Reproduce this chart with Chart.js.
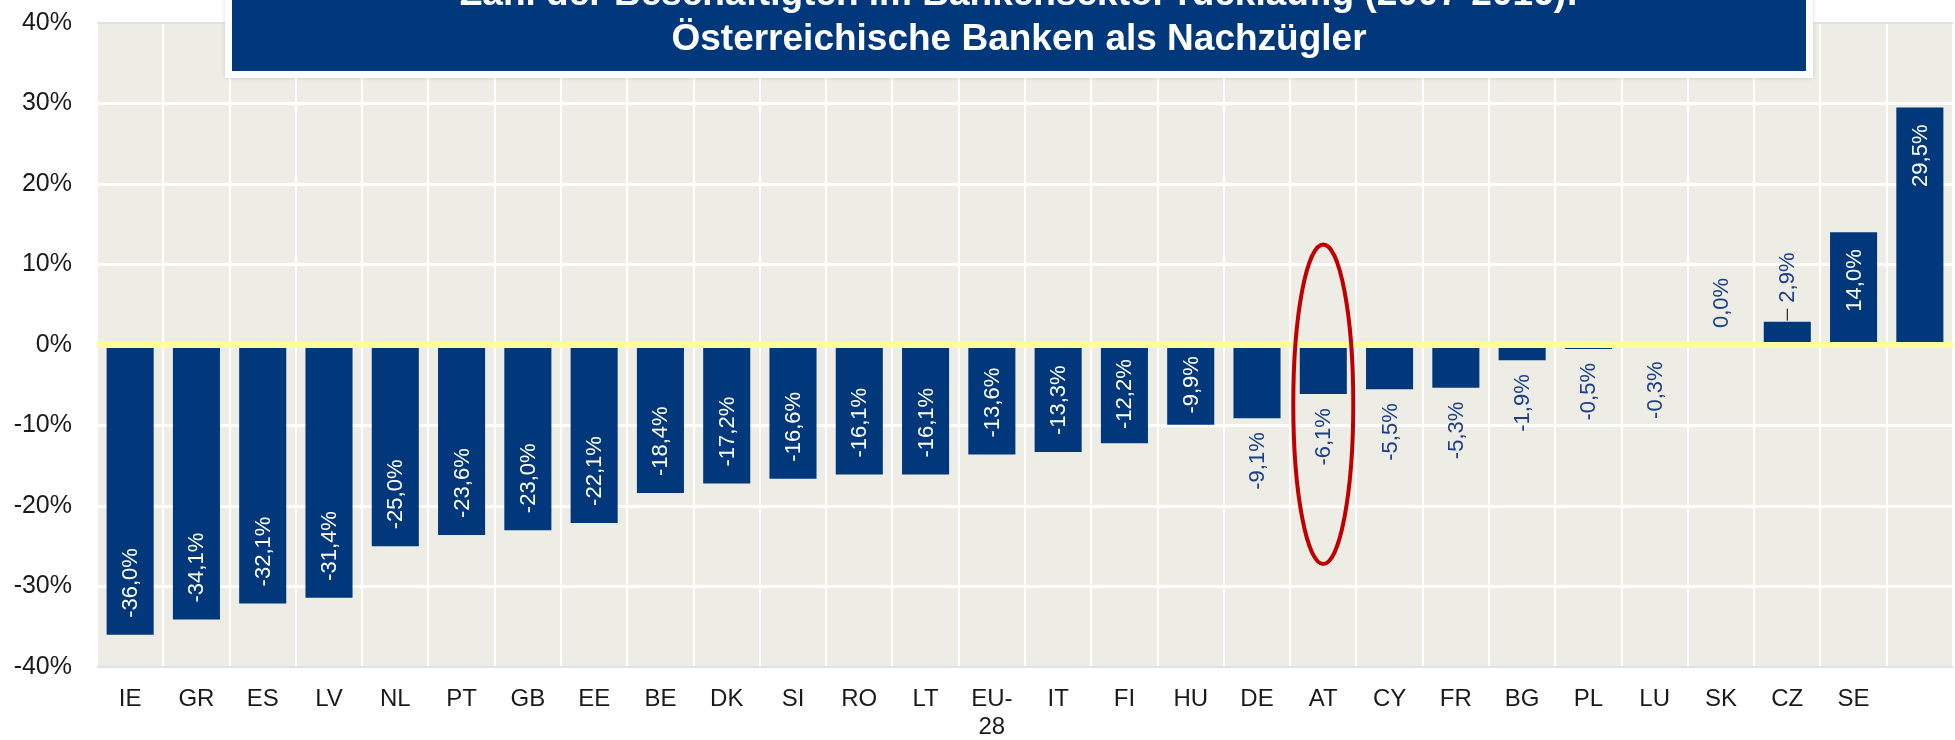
<!DOCTYPE html>
<html>
<head>
<meta charset="utf-8">
<script src="https://cdn.jsdelivr.net/npm/chart.js@4/dist/chart.umd.min.js"></script>
<style>
  body { margin: 0; background: #fff; }
</style>
</head>
<body>
<canvas id="chart" width="1955" height="740"></canvas>
<script>
const categories = ["IE", "GR", "ES", "LV", "NL", "PT", "GB", "EE", "BE", "DK", "SI", "RO", "LT",
  ["EU-", "28"], "IT", "FI", "HU", "DE", "AT", "CY", "FR", "BG", "PL", "LU", "SK", "CZ", "SE", ""];
const changes = [-36.0, -34.1, -32.1, -31.4, -25.0, -23.6, -23.0, -22.1, -18.4, -17.2, -16.6, -16.1, -16.1,
  -13.6, -13.3, -12.2, -9.9, -9.1, -6.1, -5.5, -5.3, -1.9, -0.5, -0.3, 0.0, 2.9, 14.0, 29.5];
const titleLines = [
  "Zahl der Beschäftigten im Bankensektor rückläufig (2007-2016):",
  "Österreichische Banken als Nachzügler"
];
const highlight = "AT";

const FONT = '"Liberation Sans", Arial, sans-serif';
const BLUE = "#00387b";

const fmt = (v) => v.toFixed(1).replace(".", ",") + "%";

const plotBackground = {
  id: "plotBackground",
  beforeDraw(chart) {
    const { ctx, chartArea: a } = chart;
    ctx.save();
    ctx.fillStyle = "#ededE6";
    ctx.fillRect(a.left, a.top, a.right - a.left, a.bottom - a.top);
    ctx.restore();
  }
};

const barLabels = {
  id: "barLabels",
  afterDatasetsDraw(chart) {
    const { ctx, chartArea: a } = chart;
    const y = chart.scales.y;
    const zero = y.getPixelForValue(0);

    // yellow zero line on top of the bars
    ctx.save();
    ctx.strokeStyle = "#ffff99";
    ctx.lineWidth = 6;
    ctx.beginPath();
    ctx.moveTo(a.left, zero);
    ctx.lineTo(a.right, zero);
    ctx.stroke();

    ctx.font = "22px " + FONT;
    ctx.textAlign = "left";
    ctx.textBaseline = "middle";
    chart.getDatasetMeta(0).data.forEach((bar, i) => {
      const v = changes[i];
      const text = fmt(v);
      const w = ctx.measureText(text).width;
      const len = Math.abs(bar.y - zero);
      let start;
      if (len >= w + 20) {
        ctx.fillStyle = "#fff";
        const pad = Math.min(17, (len - w) / 2);
        start = v < 0 ? bar.y - pad : bar.y + pad + w;
      } else {
        ctx.fillStyle = "#1b3f8b";
        if (v < 0) {
          start = bar.y + 14 + w;
        } else {
          start = bar.y - 17;
          if (v > 0) {
            start = bar.y - 19;
            ctx.strokeStyle = "#000";
            ctx.lineWidth = 1;
            ctx.beginPath();
            ctx.moveTo(bar.x, bar.y - 1);
            ctx.lineTo(bar.x, bar.y - 13);
            ctx.stroke();
          }
        }
      }
      ctx.save();
      ctx.translate(bar.x, start);
      ctx.rotate(-Math.PI / 2);
      ctx.fillText(text, 0, 1);
      ctx.restore();
    });

    // red ellipse round Austria
    const idx = categories.indexOf(highlight);
    const cx = chart.scales.x.getPixelForValue(idx);
    const top = y.getPixelForValue(12.5);
    const bottom = y.getPixelForValue(-27.2);
    ctx.strokeStyle = "#c00000";
    ctx.lineWidth = 4;
    ctx.beginPath();
    ctx.ellipse(cx, (top + bottom) / 2, 30, (bottom - top) / 2, 0, 0, Math.PI * 2);
    ctx.stroke();
    ctx.restore();
  }
};

const titleBox = {
  id: "titleBox",
  afterDraw(chart) {
    const { ctx } = chart;
    ctx.save();
    ctx.shadowColor = "rgba(0,0,0,0.15)";
    ctx.shadowBlur = 4;
    ctx.fillStyle = "#fff";
    ctx.fillRect(225, -10, 1588, 88);
    ctx.shadowColor = "transparent";
    ctx.fillStyle = BLUE;
    ctx.fillRect(232, -10, 1574, 81);
    ctx.fillStyle = "#fff";
    ctx.font = "bold 37px " + FONT;
    ctx.textAlign = "center";
    ctx.textBaseline = "alphabetic";
    ctx.fillText(titleLines[0], 1019, 5);
    ctx.fillText(titleLines[1], 1019, 50);
    ctx.restore();
  }
};

new Chart(document.getElementById("chart"), {
  type: "bar",
  data: {
    labels: categories,
    datasets: [
      {
        data: changes,
        backgroundColor: BLUE,
        borderWidth: 0,
        categoryPercentage: 1,
        barPercentage: 0.71
      }
    ]
  },
  options: {
    responsive: false,
    animation: false,
    devicePixelRatio: 1,
    layout: { padding: { top: 23, right: 2, bottom: 0, left: 0 } },
    plugins: {
      legend: { display: false },
      tooltip: { enabled: false },
      title: { display: false }
    },
    scales: {
      x: {
        grid: { color: "#fff", lineWidth: 2, drawTicks: false },
        border: { display: false },
        ticks: {
          color: "#1a1a1a",
          font: { family: FONT, size: 24, lineHeight: 1.15 },
          padding: 19,
          maxRotation: 0,
          autoSkip: false
        },
        afterFit(scale) { scale.height = 73; }
      },
      y: {
        min: -40,
        max: 40,
        grid: {
          drawTicks: false,
          color: (c) => (c.tick.value === 0 ? "rgba(0,0,0,0)" : Math.abs(c.tick.value) === 40 ? "#dde2ec" : "#fff"),
          lineWidth: (c) => (Math.abs(c.tick.value) === 40 ? 2 : 3)
        },
        border: { display: false },
        ticks: {
          stepSize: 10,
          color: "#1a1a1a",
          font: { family: FONT, size: 25 },
          padding: 25,
          callback: (v) => v + "%"
        },
        afterFit(scale) {
          scale.width = 97;
          scale.paddingTop = 14;
          scale.paddingBottom = 14;
        }
      }
    }
  },
  plugins: [plotBackground, barLabels, titleBox]
});
</script>
</body>
</html>
